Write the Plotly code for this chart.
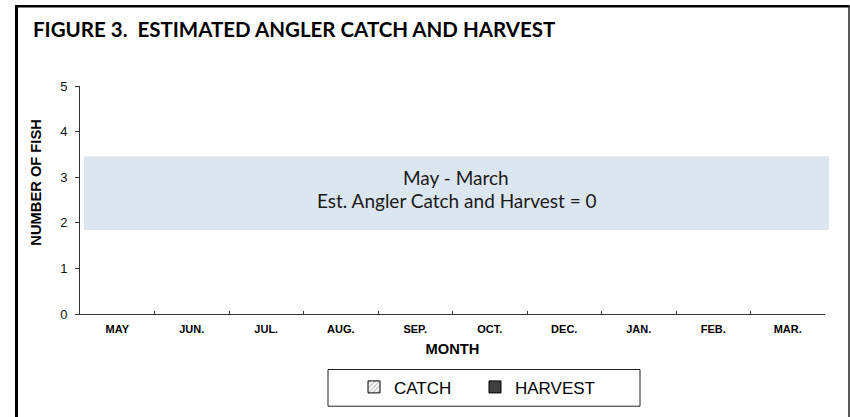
import plotly.graph_objects as go

# ---- data ----
months = ["MAY", "JUN.", "JUL.", "AUG.", "SEP.", "OCT.", "DEC.", "JAN.", "FEB.", "MAR."]
catch_values = [0, 0, 0, 0, 0, 0, 0, 0, 0, 0]
harvest_values = [0, 0, 0, 0, 0, 0, 0, 0, 0, 0]
y_ticks = [0, 1, 2, 3, 4, 5]
series_names = ["CATCH", "HARVEST"]
title_text = "FIGURE 3.  ESTIMATED ANGLER CATCH AND HARVEST"
note_lines = ["May - March", "Est. Angler Catch and Harvest = 0"]

W, H = 850, 417
L, R, T, B = 80, 25, 86, 101
PW, PH = W - L - R, H - T - B


def px(x):
    return (x - L) / PW


def py(y):
    return (H - B - y) / PH


catch_marker = dict(color="white", line=dict(color="black", width=1),
                    pattern=dict(shape="/", fgcolor="#555555", size=4, solidity=0.3))
harvest_marker = dict(color="#404040", line=dict(color="black", width=1))

fig = go.Figure()
# data bars (all values are zero; no outline so empty bars stay invisible)
fig.add_trace(go.Bar(x=months, y=catch_values, name=series_names[0], legendgroup="c",
                     showlegend=False,
                     marker=dict(catch_marker, line=dict(color="black", width=0))))
fig.add_trace(go.Bar(x=months, y=harvest_values, name=series_names[1], legendgroup="h",
                     showlegend=False,
                     marker=dict(harvest_marker, line=dict(color="black", width=0))))
# legend entries (outlined swatches, no data drawn)
fig.add_trace(go.Bar(x=[None], y=[None], name=series_names[0], legendgroup="c",
                     marker=catch_marker, hoverinfo="skip"))
fig.add_trace(go.Bar(x=[None], y=[None], name=series_names[1], legendgroup="h",
                     marker=harvest_marker, hoverinfo="skip"))

shapes = [
    # note box
    dict(type="rect", xref="paper", yref="y", x0=px(84), x1=px(829), y0=1.84, y1=3.46,
         fillcolor="#DCE6F1", line=dict(width=0), layer="below"),
    # legend frame
    dict(type="rect", xref="paper", yref="paper", x0=px(328), x1=px(640), y0=py(409), y1=py(372),
         fillcolor="rgba(0,0,0,0)", line=dict(color="#222222", width=1)),
    # outer frame
    dict(type="line", xref="paper", yref="paper", x0=px(16.5), x1=px(16.5), y0=py(4.5), y1=py(430),
         line=dict(color="black", width=3)),
    dict(type="line", xref="paper", yref="paper", x0=px(15), x1=px(849.5), y0=py(5.5), y1=py(5.5),
         line=dict(color="black", width=2.5)),
    dict(type="line", xref="paper", yref="paper", x0=px(849), x1=px(849), y0=py(5), y1=py(430),
         line=dict(color="#222222", width=1.5)),
]

annotations = [
    dict(text="<b>" + title_text + "</b>", xref="paper", yref="paper", x=px(30.5), y=py(28),
         xanchor="left", yanchor="middle", showarrow=False,
         font=dict(family="Lato", size=20.5, color="black")),
    dict(text=note_lines[0], xref="paper", yref="paper", x=px(456), y=py(178),
         xanchor="center", yanchor="middle", showarrow=False,
         font=dict(family="Lato", size=19, color="#1a1a1a")),
    dict(text=note_lines[1], xref="paper", yref="paper", x=px(457), y=py(202),
         xanchor="center", yanchor="middle", showarrow=False,
         font=dict(family="Lato", size=19, color="#1a1a1a")),
    dict(text="<b>NUMBER OF FISH</b>", xref="paper", yref="paper", x=px(36.5), y=py(184),
         xanchor="center", yanchor="middle", textangle=-90, showarrow=False,
         font=dict(family="Liberation Sans, Arial", size=14.7, color="black")),
]

fig.update_layout(
    width=W, height=H,
    margin=dict(l=L, r=R, t=T, b=B, pad=0),
    paper_bgcolor="white", plot_bgcolor="white",
    barmode="group",
    shapes=shapes, annotations=annotations,
    showlegend=True,
    legend=dict(orientation="h", x=px(354), y=py(390), xanchor="left", yanchor="middle",
                bgcolor="rgba(0,0,0,0)", borderwidth=0, traceorder="normal",
                font=dict(family="Liberation Sans, Arial", size=17, color="black"),
                entrywidth=76, entrywidthmode="pixels", itemclick=False, itemdoubleclick=False),
    xaxis=dict(
        type="category", tickson="boundaries", ticks="inside", ticklen=3, tickcolor="#333333",
        showline=True, linecolor="#333333", linewidth=1, showgrid=False,
        tickfont=dict(family="Liberation Sans, Arial", size=11, color="black"),
        tickprefix="<b>", ticksuffix="</b>", ticklabelstandoff=5,
        categoryorder="array", categoryarray=months,
        title=dict(text="<b>MONTH</b>", standoff=9,
                   font=dict(family="Liberation Sans, Arial", size=14.7, color="black")),
        fixedrange=True,
    ),
    yaxis=dict(
        range=[0, 5], tickvals=y_ticks, ticks="outside", ticklen=4, tickcolor="#333333",
        showline=True, linecolor="#333333", linewidth=1, showgrid=False, zeroline=False,
        tickfont=dict(family="Liberation Sans, Arial", size=13, color="#111111"),
        ticklabelstandoff=5,
        fixedrange=True,
    ),
)

fig.write_html("out.html", config={"displayModeBar": False},
               post_script="document.body.style.margin='0';")
